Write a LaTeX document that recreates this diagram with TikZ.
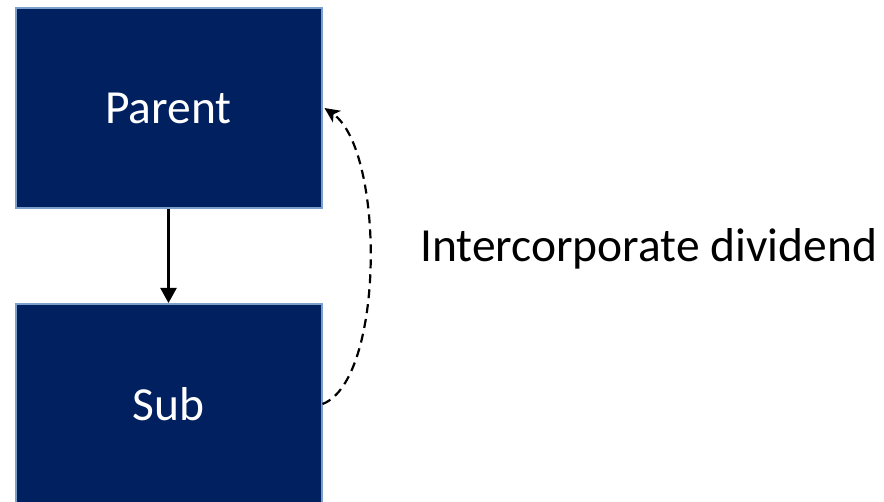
\documentclass[tikz,border=0pt]{standalone}
\usepackage{fontspec}
\setmainfont{Carlito}
\usetikzlibrary{arrows.meta}
\definecolor{boxfill}{HTML}{002060}
\definecolor{boxedge}{HTML}{7BA0CC}
\begin{document}
\begin{tikzpicture}[x=1pt,y=-1pt,
  entity/.style={draw=boxedge,line width=2pt,fill=boxfill,text=white,
    minimum width=306pt,minimum height=200pt,inner sep=0pt,font=\fontsize{47.5}{54}\selectfont},
  link/.style={line width=2.2pt,-{Triangle[length=15pt,width=16pt]}},
  flow/.style={line width=2.2pt,dash pattern=on 9pt off 6pt,-{Stealth[length=15pt,width=14pt,inset=4pt]}}]
  \useasboundingbox (0,0) rectangle (884,502);
  \begin{scope}
    \clip (0,0) rectangle (884,502);
    \node[entity] (parent) at (168.5,108) {Parent};
    \node[entity] (sub) at (168.5,404) {Sub};
  \end{scope}
  \node[anchor=west,inner sep=0pt,font=\fontsize{47.5}{54}\selectfont] (lbl) at (420,249) {Intercorporate dividend};
  \draw[link] (parent.south) -- (sub.north);
  \coordinate (s) at (sub.east);
  \coordinate (t) at ([xshift=2pt]parent.east);
  \draw[flow] (s) .. controls (385,380) and (385,150) .. (t);
\end{tikzpicture}
\end{document}
